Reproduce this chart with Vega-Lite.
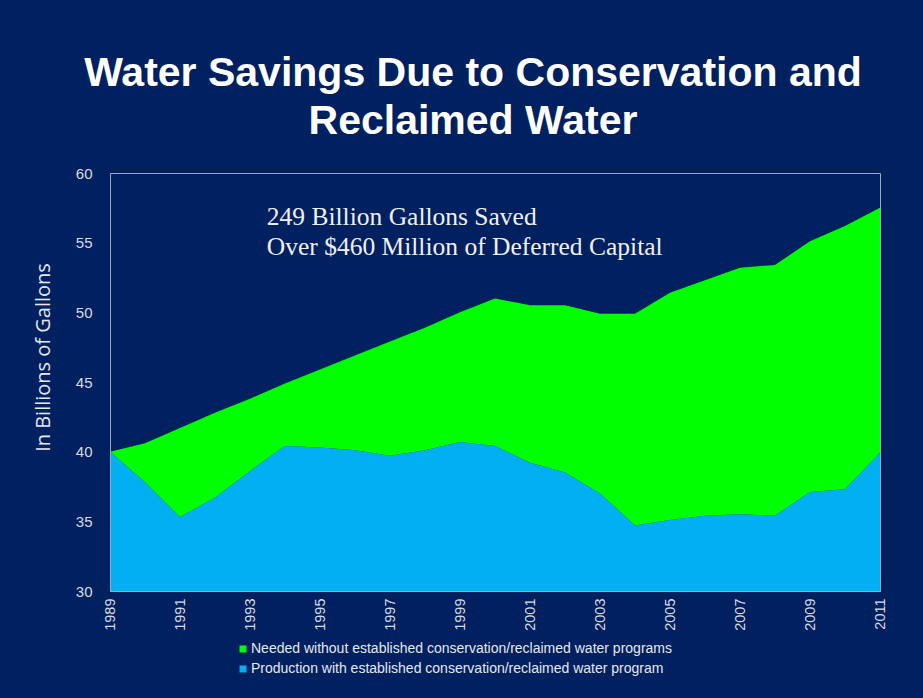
{
  "$schema": "https://vega.github.io/schema/vega-lite/v6.json",
  "width": 770,
  "height": 418,
  "autosize": {"type": "none"},
  "padding": {"left": 110, "top": 173, "right": 43, "bottom": 107},
  "background": "#002060",
  "title": {
    "text": ["Water Savings Due to Conservation and", "Reclaimed Water"],
    "font": "Liberation Sans",
    "fontSize": 41,
    "fontWeight": "bold",
    "color": "#ffffff",
    "anchor": "middle",
    "frame": "group",
    "dx": -22,
    "lineHeight": 48,
    "offset": 23
  },
  "config": {
    "view": {"stroke": "#9ea6bf", "strokeWidth": 1},
    "axis": {"grid": false}
  },
  "data": {
    "values": [
      {"year": 1989, "production": 40.0, "needed": 40.0},
      {"year": 1990, "production": 37.8, "needed": 40.6},
      {"year": 1991, "production": 35.3, "needed": 41.7},
      {"year": 1992, "production": 36.7, "needed": 42.8},
      {"year": 1993, "production": 38.6, "needed": 43.8},
      {"year": 1994, "production": 40.4, "needed": 44.9},
      {"year": 1995, "production": 40.3, "needed": 45.9},
      {"year": 1996, "production": 40.1, "needed": 46.9},
      {"year": 1997, "production": 39.7, "needed": 47.9},
      {"year": 1998, "production": 40.1, "needed": 48.9},
      {"year": 1999, "production": 40.7, "needed": 50.0},
      {"year": 2000, "production": 40.4, "needed": 51.0},
      {"year": 2001, "production": 39.2, "needed": 50.5},
      {"year": 2002, "production": 38.5, "needed": 50.5},
      {"year": 2003, "production": 37.0, "needed": 49.9},
      {"year": 2004, "production": 34.7, "needed": 49.9},
      {"year": 2005, "production": 35.1, "needed": 51.4},
      {"year": 2006, "production": 35.4, "needed": 52.3},
      {"year": 2007, "production": 35.5, "needed": 53.2},
      {"year": 2008, "production": 35.4, "needed": 53.4},
      {"year": 2009, "production": 37.1, "needed": 55.1},
      {"year": 2010, "production": 37.3, "needed": 56.2},
      {"year": 2011, "production": 39.9, "needed": 57.5}
    ]
  },
  "encoding": {
    "x": {
      "field": "year",
      "type": "quantitative",
      "scale": {"domain": [1989, 2011], "nice": false, "zero": false},
      "axis": {
        "title": null,
        "values": [1989, 1991, 1993, 1995, 1997, 1999, 2001, 2003, 2005, 2007, 2009, 2011],
        "format": "d",
        "labelAngle": -90,
        "labelAlign": "right",
        "labelBaseline": "middle",
        "labelFont": "Liberation Sans",
        "labelFontSize": 14.5,
        "labelColor": "#d9dbe3",
        "labelPadding": 7,
        "ticks": false,
        "domainColor": "#9ea6bf",
        "labelFlush": false,
        "labelOverlap": false,
        "zindex": 1
      }
    }
  },
  "layer": [
    {
      "mark": {"type": "area", "interpolate": "linear"},
      "encoding": {
        "y": {
          "field": "needed",
          "type": "quantitative",
          "scale": {"domain": [30, 60], "nice": false, "zero": false},
          "axis": {
            "title": "In Billions of Gallons",
            "titleFont": "Open Sans",
            "titleFontSize": 20,
            "titleFontWeight": "normal",
            "titleColor": "#e6e8ee",
            "titleX": -67,
            "titleY": 184,
            "titleAngle": -90,
            "titleAlign": "center",
            "titleBaseline": "middle",
            "values": [30, 35, 40, 45, 50, 55, 60],
            "labelFont": "Liberation Sans",
            "labelFontSize": 15,
            "labelColor": "#d9dbe3",
            "labelPadding": 18,
            "ticks": false,
            "domainColor": "#9ea6bf",
            "zindex": 1
          }
        },
        "y2": {"field": "production"},
        "color": {
          "datum": "Needed without established conservation/reclaimed water programs",
          "type": "nominal",
          "scale": {
            "domain": [
              "Needed without established conservation/reclaimed water programs",
              "Production with established conservation/reclaimed water program"
            ],
            "range": ["#00ff00", "#00b0f0"]
          },
          "legend": {
            "title": null,
            "orient": "none",
            "legendX": 126,
            "legendY": 469,
            "symbolType": "square",
            "symbolSize": 49,
            "symbolStrokeWidth": 0,
            "symbolOpacity": 1,
            "labelFont": "Liberation Sans",
            "labelFontSize": 14,
            "labelColor": "#e6e8ee",
            "labelOffset": 1,
            "rowPadding": 6,
            "padding": 0,
            "labelLimit": 600
          }
        }
      }
    },
    {
      "mark": {"type": "area", "interpolate": "linear"},
      "encoding": {
        "y": {"field": "production", "type": "quantitative"},
        "y2": {"datum": 30},
        "color": {
          "datum": "Production with established conservation/reclaimed water program",
          "type": "nominal"
        }
      }
    },
    {
      "data": {
        "values": [
          {"year": 1993.48, "value": 56.27, "label": "249 Billion Gallons Saved"},
          {"year": 1993.48, "value": 54.12, "label": "Over $460 Million of Deferred Capital"}
        ]
      },
      "mark": {
        "type": "text",
        "align": "left",
        "baseline": "alphabetic",
        "font": "Liberation Serif",
        "fontSize": 25.5,
        "color": "#f0f0f0"
      },
      "encoding": {
        "y": {"field": "value", "type": "quantitative"},
        "text": {"field": "label"}
      }
    }
  ]
}
